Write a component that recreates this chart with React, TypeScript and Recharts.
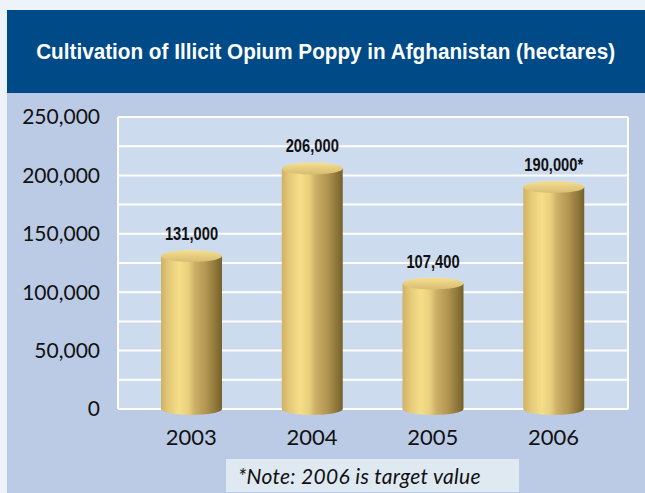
import React from "react"
import { BarChart, Bar, XAxis, YAxis, CartesianGrid, LabelList } from "recharts"

// Afghanistan opium poppy cultivation, hectares (2006 = target)
const years = ["2003", "2004", "2005", "2006"]
const hectares = [131000, 206000, 107400, 190000]
const valueLabels = ["131,000", "206,000", "107,400", "190,000*"]
const yTicks = [0, 50000, 100000, 150000, 200000, 250000]
const gridValues = [0, 25000, 50000, 75000, 100000, 125000, 150000, 175000, 200000, 225000, 250000]

const data = years.map((year, i) => ({ year, hectares: hectares[i], label: valueLabels[i] }))

const tickFont = "Lato, 'DejaVu Sans', sans-serif"

const Cylinder = (props: any) => {
  const { x, y, width, height } = props
  const rx = width / 2
  const ry = 6
  const cx = x + rx
  const bottom = y + height
  const body = `M${x},${y} L${x},${bottom} A${rx},${ry} 0 0 0 ${x + width},${bottom} L${x + width},${y} Z`
  return (
    <g>
      <path d={body} fill="url(#cylBody)" />
      <ellipse cx={cx} cy={y} rx={rx} ry={ry} fill="url(#cylTop)" />
    </g>
  )
}

const ValueLabel = (props: any) => {
  const { x, y, width, value } = props
  return (
    <text
      transform={`translate(${x + width / 2},${y - 16}) scale(0.84,1)`}
      textAnchor="middle"
      fontFamily="'Liberation Sans', Arial, sans-serif"
      fontWeight="bold"
      fontSize={17.5}
      fill="#111"
    >
      {value}
    </text>
  )
}

export default function App() {
  return (
    <div style={{ position: "absolute", left: 0, top: 0, width: 645, height: 493, overflow: "hidden", background: "#eef2f9" }}>
      <div style={{ position: "absolute", left: 7, top: 10, width: 638, height: 83, background: "#004b87" }} />
      <div
        style={{
          position: "absolute",
          left: 7,
          top: 10,
          width: 638,
          height: 83,
          display: "flex",
          alignItems: "center",
          justifyContent: "center",
          color: "#fff",
          fontFamily: "'Liberation Sans', Arial, sans-serif",
          fontWeight: "bold",
          fontSize: 22.5,
        }}
      >
        <span style={{ display: "inline-block", transform: "scaleX(0.92)", whiteSpace: "nowrap" }}>
          Cultivation of Illicit Opium Poppy in Afghanistan (hectares)
        </span>
      </div>
      <div style={{ position: "absolute", left: 7, top: 93, width: 638, height: 400, background: "#bccbe5" }} />
      <div
        style={{
          position: "absolute",
          left: 226,
          top: 459,
          width: 293,
          height: 33,
          background: "#dfe9f1",
          fontFamily: tickFont,
          fontStyle: "italic",
          fontSize: 21,
          letterSpacing: 0.3,
          color: "#111",
          lineHeight: "33px",
          paddingLeft: 12,
          boxSizing: "border-box",
          whiteSpace: "nowrap",
        }}
      >
        *Note: 2006 is target value
      </div>
      <div style={{ position: "absolute", left: 0, top: 0 }}>
        <BarChart width={645} height={493} data={data} margin={{ top: 117, right: 17, bottom: 54, left: 0 }}>
          <defs>
            <linearGradient id="cylBody" x1="0" y1="0" x2="1" y2="0">
              <stop offset="0%" stopColor="#cfb163" />
              <stop offset="12%" stopColor="#e4c978" />
              <stop offset="30%" stopColor="#f6de88" />
              <stop offset="45%" stopColor="#e8cf7c" />
              <stop offset="55%" stopColor="#cdb168" />
              <stop offset="75%" stopColor="#b09450" />
              <stop offset="100%" stopColor="#76612b" />
            </linearGradient>
            <linearGradient id="cylTop" x1="0" y1="0" x2="0" y2="1">
              <stop offset="0%" stopColor="#f6df90" />
              <stop offset="100%" stopColor="#d6bc72" />
            </linearGradient>
          </defs>
          <CartesianGrid
            fill="#cddbef"
            stroke="#ffffff"
            strokeWidth={2}
            horizontalValues={gridValues}
            verticalCoordinatesGenerator={({ offset }: any) => [offset.left, offset.left + offset.width]}
          />
          <XAxis
            dataKey="year"
            height={30}
            axisLine={false}
            tickLine={false}
            tickSize={0}
            tickMargin={20}
            padding={{ left: 13, right: 14 }}
            tick={{ fontFamily: tickFont, fontSize: 22, fill: "#111" }}
          />
          <YAxis
            width={118}
            domain={[0, 250000]}
            ticks={yTicks}
            interval={0}
            axisLine={false}
            tickLine={false}
            tickSize={0}
            tickMargin={18}
            tickFormatter={(v: number) => v.toLocaleString("en-US")}
            tick={{ fontFamily: tickFont, fontSize: 21, fill: "#111" }}
          />
          <Bar dataKey="hectares" barSize={61} shape={<Cylinder />} isAnimationActive={false}>
            <LabelList dataKey="label" content={<ValueLabel />} />
          </Bar>
        </BarChart>
      </div>
    </div>
  )
}
